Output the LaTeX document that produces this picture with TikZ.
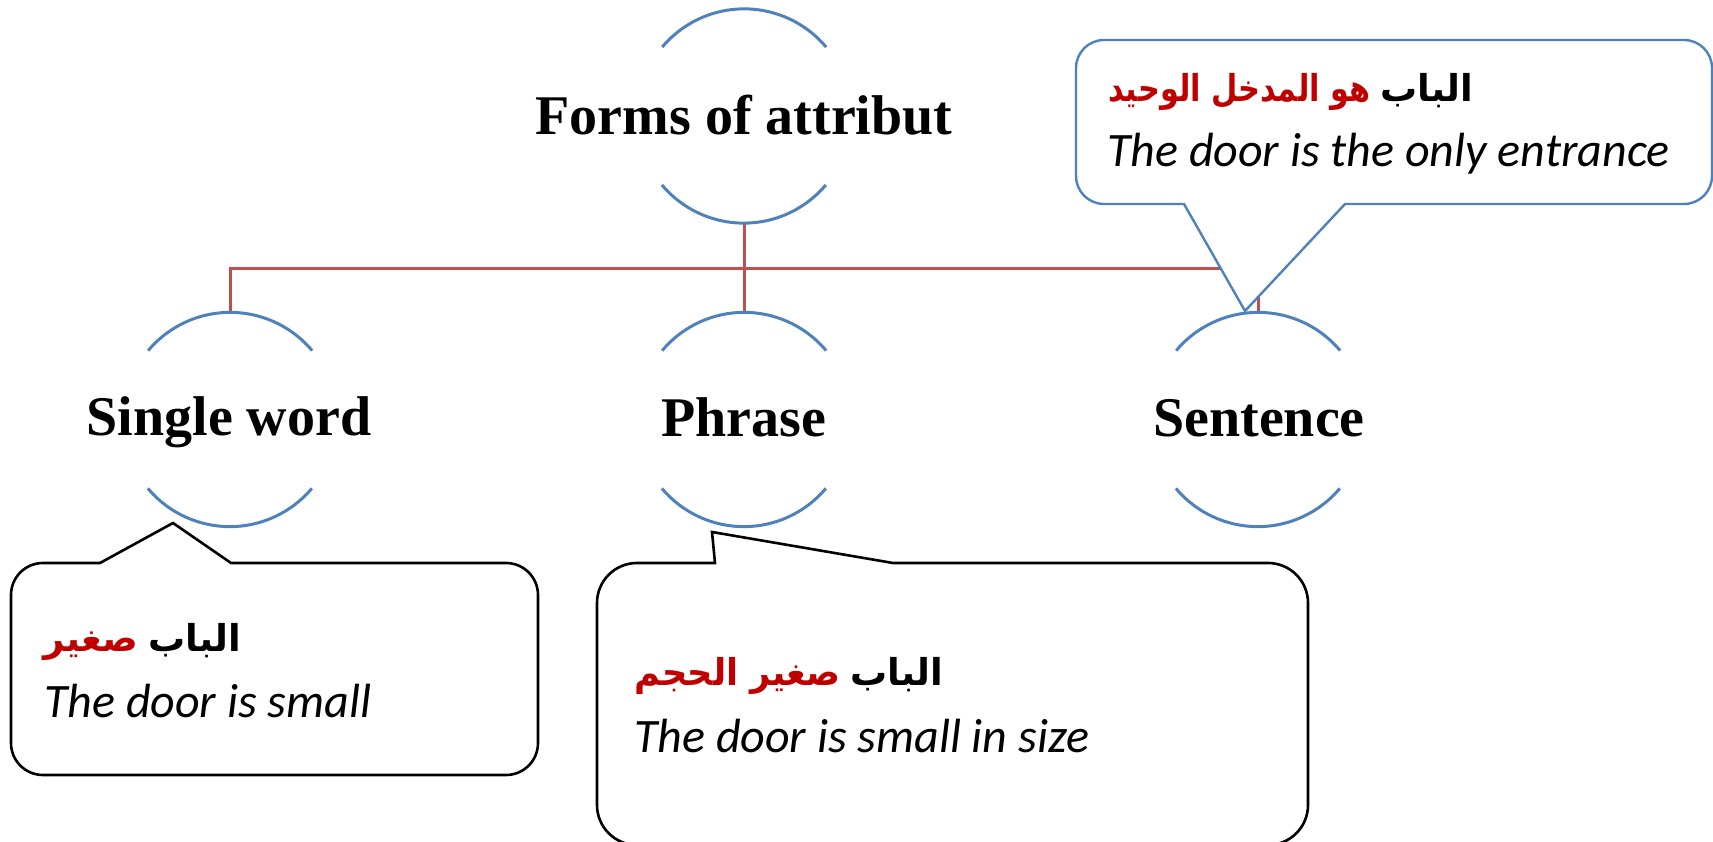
\documentclass[tikz,border=0pt]{standalone}
\usepackage{fontspec}
\setmainfont{Liberation Serif}
\newfontfamily\glossfont{Carlito}
\newfontfamily\arabicfont[Script=Arabic]{DejaVu Sans}
\TeXXeTstate=1
\definecolor{arcblue}{HTML}{4F81BD}
\definecolor{busred}{HTML}{C0504D}
\definecolor{wordred}{HTML}{C00000}
\newcommand\ringarcs[1]{%
  \draw[ringarc] (#1.40) arc[start angle=40,end angle=140,radius=107pt];
  \draw[ringarc] (#1.220) arc[start angle=220,end angle=320,radius=107pt];}
\begin{document}
\begin{tikzpicture}[x=1pt,y=1pt,
  ring/.style={circle,minimum size=214pt,inner sep=0pt,draw=none},
  ringarc/.style={draw=arcblue,line width=3pt},
  title/.style={font=\fontsize{56}{62}\selectfont\bfseries,anchor=base,inner sep=0pt},
  bus/.style={draw=busred,line width=3pt},
  bubble/.style={draw=black,line width=2.6pt,fill=white,line join=miter},
  bluebubble/.style={bubble,draw=arcblue,line width=2.4pt},
  gloss/.style={font=\glossfont\itshape\fontsize{48}{52}\selectfont,anchor=base west,inner sep=0pt},
  arab/.style={font=\arabicfont\bfseries\fontsize{37}{44}\selectfont,inner sep=0pt},
  arabhead/.style={arab,anchor=base east},
  arabrest/.style={arab,text=wordred,anchor=base east}]
\useasboundingbox (0,0) rectangle (1713,841);

% rings
\node[ring] (top) at (744,725) {};
\node[ring] (single) at (230,421.5) {};
\node[ring] (phrase) at (744,421.5) {};
\node[ring] (sentence) at (1258,421.5) {};

% tree connectors
\draw[bus] (top.south) -- ++(0,-45) coordinate (hub);
\draw[bus] (single.north) |- (hub) -| (sentence.north);
\draw[bus] (hub) -- (phrase.north);

\ringarcs{top}
\ringarcs{single}
\ringarcs{phrase}
\ringarcs{sentence}

% labels
\node[title] (ttop) at (744,706) {Forms of attribut};
\node[title] (tsingle) at (229,405) {Single word};
\node[title] (tphrase) at (744,404) {Phrase};
\node[title] (tsentence) at (1259,404) {Sentence};

% speech bubbles
\draw[bubble] (231,278) -- (538-32,278) arc[start angle=90,end angle=0,radius=32pt]
  -- (538,66+32) arc[start angle=0,end angle=-90,radius=32pt]
  -- (11+32,66) arc[start angle=270,end angle=180,radius=32pt]
  -- (11,278-32) arc[start angle=180,end angle=90,radius=32pt]
  -- (100,278) -- (173,318) -- cycle;
\draw[bubble] (893,278) -- (1308-40,278) arc[start angle=90,end angle=0,radius=40pt]
  -- (1308,-4+40) arc[start angle=0,end angle=-90,radius=40pt]
  -- (597+40,-4) arc[start angle=270,end angle=180,radius=40pt]
  -- (597,278-40) arc[start angle=180,end angle=90,radius=40pt]
  -- (715,278) -- (712,309) -- cycle;
\draw[bluebubble] (1345,637) -- (1712-28,637) arc[start angle=270,end angle=360,radius=28pt]
  -- (1712,801-28) arc[start angle=0,end angle=90,radius=28pt]
  -- (1076+28,801) arc[start angle=90,end angle=180,radius=28pt]
  -- (1076,637+28) arc[start angle=180,end angle=270,radius=28pt]
  -- (1184,637) -- (1245,530) -- cycle;

% bubble texts: the black head word sits right, the red remainder to its left
\node[arabhead] (a1) at (241,189) {\beginR الباب\endR};
\node[arabrest] (a1r) at ([xshift=-9pt]a1.base west) {\beginR صغير\endR};
\node[gloss] (e1) at (44,124) {The door is small};
\node[arabhead] (a2) at (943,156) {\beginR الباب\endR};
\node[arabrest,xscale=0.95] (a2r) at ([xshift=-9pt]a2.base west) {\beginR صغير الحجم\endR};
\node[gloss] (e2) at (634,89) {The door is small in size};
\node[arabhead] (a3) at (1473,739) {\beginR الباب\endR};
\node[arabrest,xscale=0.82] (a3r) at ([xshift=-9pt]a3.base west) {\beginR هو المدخل الوحيد\endR};
\node[gloss] (e3) at (1107,674) {The door is the only entrance};
\end{tikzpicture}
\end{document}
